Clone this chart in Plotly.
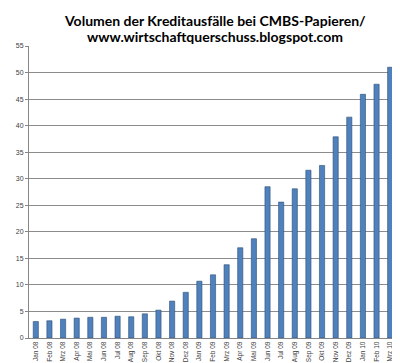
import plotly.graph_objects as go

months = ["Jan 08", "Feb 08", "Mrz 08", "Apr 08", "Mai 08", "Jun 08", "Jul 08", "Aug 08",
          "Sep 08", "Okt 08", "Nov 08", "Dez 08", "Jan 09", "Feb 09", "Mrz 09", "Apr 09",
          "Mai 09", "Jun 09", "Jul 09", "Aug 09", "Sep 09", "Okt 09", "Nov 09", "Dez 09",
          "Jan 10", "Feb 10", "Mrz 10"]
volumen = [3.1, 3.25, 3.55, 3.75, 3.9, 3.9, 4.1, 4.0, 4.55, 5.25, 6.95, 8.6, 10.7, 11.9,
           13.8, 17.0, 18.7, 28.5, 25.6, 28.1, 31.6, 32.5, 37.9, 41.6, 45.9, 47.8, 51.0]
y_ticks = list(range(0, 56, 5))
title_lines = ["Volumen der Kreditausfälle bei CMBS-Papieren/",
               "www.wirtschaftquerschuss.blogspot.com"]

fig = go.Figure()
fig.add_trace(go.Bar(
    x=months, y=volumen,
    marker=dict(color="#4F81BD", line=dict(color="#2C4D75", width=0.6)),
))

for i, (line, yp) in enumerate(zip(title_lines, [1.089, 1.034])):
    fig.add_annotation(
        text=line, xref="paper", yref="paper", x=0.505, y=yp,
        xanchor="center", yanchor="middle", showarrow=False,
        font=dict(family="Lato", size=14, color="black", weight="bold"),
    )

fig.update_layout(
    width=400, height=363,
    margin=dict(l=21, r=11, t=38, b=33),
    paper_bgcolor="white", plot_bgcolor="white",
    bargap=0.62,
    showlegend=False,
    xaxis=dict(
        type="category",
        tickangle=-90,
        tickfont=dict(family="Liberation Sans", size=6.5, color="#404040"),
        showline=True, linecolor="#868686", linewidth=1,
        ticks="", ticklabelstandoff=0,
        showgrid=False, automargin=False,
    ),
    yaxis=dict(
        range=[0, 55],
        tickvals=y_ticks,
        tickfont=dict(family="Liberation Sans", size=7, color="#404040"),
        showline=True, linecolor="#868686", linewidth=1,
        ticks="outside", ticklen=3, tickcolor="#868686",
        showgrid=True, gridcolor="#8C8C8C", gridwidth=1,
        zeroline=False, automargin=False,
    ),
)

fig.write_html("out.html")
